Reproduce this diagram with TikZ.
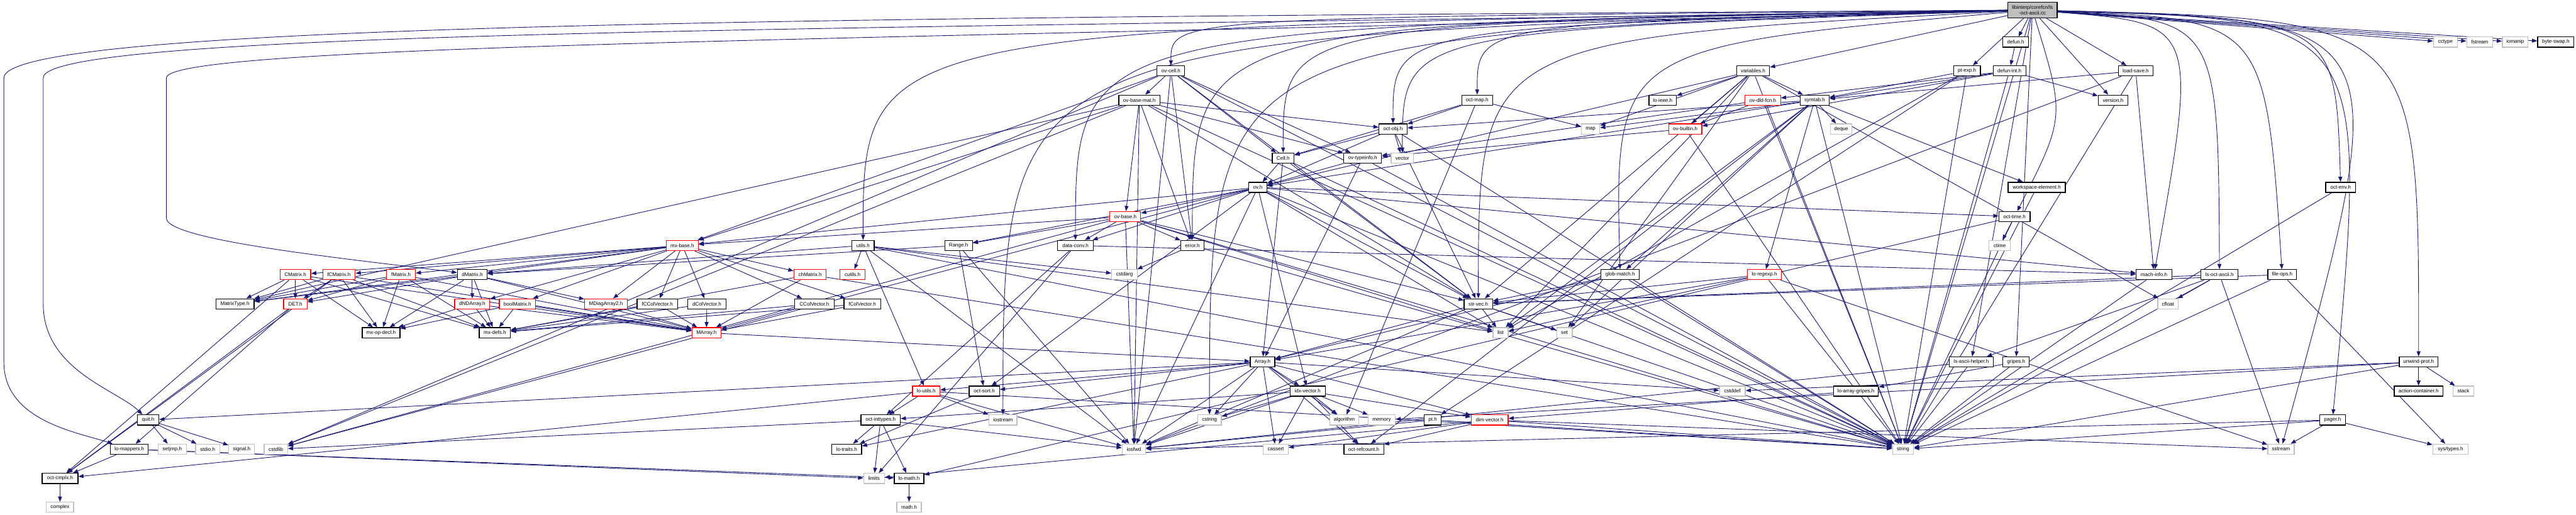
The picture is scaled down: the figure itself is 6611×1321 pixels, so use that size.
\documentclass[tikz,border=0pt]{standalone}
\usepackage{fontspec}
\setmainfont{Liberation Sans}
\usetikzlibrary{arrows.meta}
\definecolor{edgecol}{HTML}{191970}
\definecolor{graybd}{HTML}{BFBFBF}
\pgfdeclarelayer{bg}
\pgfsetlayers{bg,main}
\newcommand\nd[6]{\node[#6, minimum width=#4*0.15pt] (#1) at (#2,#3) {#5};}
\newcommand\ed[2]{\foreach \tg in {#2} {\draw[edge] (#1) -- (\tg);}}
\newcommand\rc[3]{\draw[edge] (root) .. controls (#2,#3) .. (#1);}
\begin{document}
\begin{tikzpicture}[x=0.15pt,y=-0.15pt,
 nbox/.style={draw=black, line width=0.3pt, fill=white, inner sep=0pt, minimum height=3.9pt, font=\fontsize{1.95}{2.3}\selectfont},
 gbox/.style={nbox, draw=graybd},
 rbox/.style={nbox, draw=red},
 rootbox/.style={nbox, fill=graybd, align=center, minimum height=6pt},
 edge/.style={draw=edgecol, line width=0.22pt, -{Triangle[length=2pt,width=1.5pt]}}]
\useasboundingbox (0,0) rectangle (6611,1321);
% row 0
\nd{root}{5216}{26}{127}{libinterp/corefcn/ls\\-oct-ascii.cc}{rootbox}
% row 1
\nd{defun}{5173}{108}{66}{defun.h}{nbox}
\nd{cctype}{6276}{108}{62}{cctype}{gbox}
\nd{fstream}{6364}{108}{67}{fstream}{gbox}
\nd{iomanip}{6455}{108}{66}{iomanip}{gbox}
\nd{byteswap}{6559}{108}{93}{byte-swap.h}{nbox}
% row 2
\nd{ovcell}{3005}{182}{71}{ov-cell.h}{nbox}
\nd{variables}{4499}{182}{85}{variables.h}{nbox}
\nd{ptexp}{5048}{182}{69}{pt-exp.h}{nbox}
\nd{defunint}{5157}{182}{84}{defun-int.h}{nbox}
\nd{loadsave}{5481}{182}{89}{load-save.h}{nbox}
% row 3
\nd{ovbasemat}{2924}{257}{105}{ov-base-mat.h}{nbox}
\nd{octmap}{3791}{257}{79}{oct-map.h}{nbox}
\nd{loieee}{4267}{257}{70}{lo-ieee.h}{nbox}
\nd{ovdldfcn}{4524}{257}{91}{ov-dld-fcn.h}{rbox}
\nd{symtab}{4657}{257}{75}{symtab.h}{nbox}
\nd{version}{5423}{257}{76}{version.h}{nbox}
% row 4
\nd{octobj}{3575}{331}{72}{oct-obj.h}{nbox}
\nd{map}{4082}{331}{47}{map}{gbox}
\nd{ovbuiltin}{4325}{331}{85}{ov-builtin.h}{rbox}
\nd{deque}{4725}{331}{56}{deque}{gbox}
% row 5
\nd{cell}{3293}{406}{56}{Cell.h}{nbox}
\nd{ovtypeinfo}{3497}{406}{97}{ov-typeinfo.h}{nbox}
\nd{vector}{3599}{406}{58}{vector}{gbox}
% row 6
\nd{ov}{3228}{481}{46}{ov.h}{nbox}
\nd{wselem}{5227}{481}{147}{workspace-element.h}{nbox}
\nd{octenv}{6007}{481}{77}{oct-env.h}{nbox}
% row 7
\nd{ovbase}{2888}{556}{79}{ov-base.h}{rbox}
\nd{octtime}{5170}{556}{80}{oct-time.h}{nbox}
% row 8
\nd{mxbase}{1751}{630}{82}{mx-base.h}{rbox}
\nd{utils}{2215}{630}{57}{utils.h}{nbox}
\nd{range}{2460}{630}{71}{Range.h}{nbox}
\nd{dataconv}{2760}{630}{91}{data-conv.h}{nbox}
\nd{error}{3060}{630}{59}{error.h}{nbox}
\nd{ctime}{5132}{630}{55}{ctime}{gbox}
% row 9
\nd{cmatrix}{758}{705}{79}{CMatrix.h}{rbox}
\nd{fcmatrix}{870}{705}{83}{fCMatrix.h}{rbox}
\nd{fmatrix}{1029}{705}{74}{fMatrix.h}{rbox}
\nd{dmatrix}{1212}{705}{76}{dMatrix.h}{nbox}
\nd{chmatrix}{2079}{705}{83}{chMatrix.h}{rbox}
\nd{cutils}{2188}{705}{64}{cutils.h}{rbox}
\nd{cstdarg}{2886}{705}{66}{cstdarg}{gbox}
\nd{globmatch}{4158}{705}{98}{glob-match.h}{nbox}
\nd{loregexp}{4528}{705}{87}{lo-regexp.h}{rbox}
\nd{machinfo}{5528}{705}{91}{mach-info.h}{nbox}
\nd{lsoctasciih}{5696}{705}{95}{ls-oct-ascii.h}{nbox}
\nd{fileops}{5857}{705}{74}{file-ops.h}{nbox}
% row 10
\nd{matrixtype}{603}{780}{98}{MatrixType.h}{nbox}
\nd{det}{758}{780}{60}{DET.h}{rbox}
\nd{dndarray}{1212}{780}{90}{dNDArray.h}{rbox}
\nd{boolmatrix}{1328}{780}{93}{boolMatrix.h}{rbox}
\nd{mdiagarray}{1555}{780}{109}{MDiagArray2.h}{rbox}
\nd{fccolvector}{1687}{780}{104}{fCColVector.h}{nbox}
\nd{dcolvector}{1814}{780}{98}{dColVector.h}{nbox}
\nd{ccolvector}{2090}{780}{102}{CColVector.h}{nbox}
\nd{fcolvector}{2213}{780}{94}{fColVector.h}{nbox}
\nd{strvec}{3794}{780}{73}{str-vec.h}{nbox}
\nd{cfloat}{5564}{780}{53}{cfloat}{gbox}
% row 11
\nd{mxopdecl}{978}{854}{97}{mx-op-decl.h}{nbox}
\nd{mxdefs}{1270}{854}{80}{mx-defs.h}{nbox}
\nd{marray}{1813}{854}{74}{MArray.h}{rbox}
\nd{list}{3851}{854}{39}{list}{gbox}
\nd{set}{4015}{854}{40}{set}{gbox}
% row 12
\nd{array}{3240}{929}{63}{Array.h}{nbox}
\nd{lsasciihelper}{5059}{929}{114}{ls-ascii-helper.h}{nbox}
\nd{gripes}{5174}{929}{68}{gripes.h}{nbox}
\nd{unwindprot}{6207}{929}{99}{unwind-prot.h}{nbox}
% row 13
\nd{loutils}{2377}{1004}{70}{lo-utils.h}{rbox}
\nd{octsort}{2526}{1004}{78}{oct-sort.h}{nbox}
\nd{idxvector}{3356}{1004}{90}{idx-vector.h}{nbox}
\nd{cstddef}{4446}{1004}{66}{cstddef}{gbox}
\nd{loarraygripes}{4763}{1004}{115}{lo-array-gripes.h}{nbox}
\nd{actioncontainer}{6207}{1004}{125}{action-container.h}{nbox}
\nd{stack}{6322}{1004}{54}{stack}{gbox}
% row 14
\nd{quit}{380}{1078}{55}{quit.h}{nbox}
\nd{octinttypes}{2260}{1078}{101}{oct-inttypes.h}{nbox}
\nd{iostream}{2574}{1078}{72}{iostream}{gbox}
\nd{cstring}{3104}{1078}{61}{cstring}{gbox}
\nd{algorithm}{3450}{1078}{75}{algorithm}{gbox}
\nd{memory}{3546}{1078}{69}{memory}{gbox}
\nd{npt}{3677}{1078}{44}{pt.h}{nbox}
\nd{dimvector}{3823}{1078}{95}{dim-vector.h}{rbox}
\nd{pager}{5986}{1078}{66}{pager.h}{nbox}
% row 15
\nd{lomappers}{332}{1153}{97}{lo-mappers.h}{nbox}
\nd{setjmp}{442}{1153}{72}{setjmp.h}{gbox}
\nd{stdio}{533}{1153}{62}{stdio.h}{gbox}
\nd{signal}{620}{1153}{66}{signal.h}{gbox}
\nd{cstdlib}{708}{1153}{60}{cstdlib}{gbox}
\nd{lotraits}{2173}{1153}{76}{lo-traits.h}{nbox}
\nd{iosfwd}{2910}{1153}{60}{iosfwd}{gbox}
\nd{cassert}{3274}{1153}{64}{cassert}{gbox}
\nd{octrefcount}{3500}{1153}{102}{oct-refcount.h}{nbox}
\nd{string}{4884}{1153}{54}{string}{gbox}
\nd{sstream}{5854}{1153}{68}{sstream}{gbox}
\nd{systypes}{6289}{1153}{91}{sys/types.h}{gbox}
% row 16
\nd{octcmplx}{154}{1228}{92}{oct-cmplx.h}{nbox}
\nd{limits}{2243}{1228}{53}{limits}{gbox}
\nd{lomath}{2333}{1228}{76}{lo-math.h}{nbox}
% row 17
\nd{complex}{154}{1302}{70}{complex}{gbox}
\nd{mathh}{2333}{1302}{63}{math.h}{gbox}

\begin{pgfonlayer}{bg}
% root edges
\ed{root}{defun,cctype,fstream,iomanip,byteswap,variables,ptexp,loadsave,version,string,lsasciihelper,gripes}
\rc{ovcell}{3005}{45}
\rc{octmap}{3791}{60}
\rc{octobj}{3575}{70}
\rc{cell}{3293}{60}
\rc{vector}{3599}{80}
\rc{utils}{2215}{70}
\rc{dataconv}{2760}{70}
\rc{error}{3060}{60}
\rc{strvec}{3794}{100}
\rc{globmatch}{4142}{120}
\rc{iostream}{2574}{90}
\rc{cstring}{3104}{90}
\rc{octtime}{5300}{300}
\rc{machinfo}{5642}{60}
\rc{lsoctasciih}{5693}{50}
\rc{fileops}{5814}{50}
\rc{octenv}{5994}{50}
\rc{pager}{6082}{50}
\rc{sstream}{6157}{50}
\rc{unwindprot}{6208}{50}
\draw[edge] (root.west) .. controls (2500,45) and (10,50) .. (10,200) -- (10,930) .. controls (10,1080) and (200,1110) .. (lomappers);
\draw[edge] (root.west) .. controls (2500,75) and (111,70) .. (111,200) -- (111,780) .. controls (111,950) and (300,1000) .. (quit);
\draw[edge] (root.west) .. controls (2500,100) and (427,110) .. (427,200) -- (427,560) .. controls (427,620) and (950,670) .. (dmatrix);
% other edges
\ed{defun}{defunint}
\ed{defunint}{string,ovbuiltin,ovdldfcn,symtab,version}
\ed{ptexp}{string,list,npt,symtab}
\ed{variables}{cfloat,list,map,set,string,loieee,ov,ovbuiltin,symtab,strvec}
\ed{loadsave}{iosfwd,string,machinfo,symtab}
\ed{ovcell}{cstdlib,iosfwd,string,mxbase,strvec,cell,error,ovbasemat,ovtypeinfo}
\ed{ovbasemat}{cstdlib,iosfwd,string,mxbase,strvec,matrixtype,error,octobj,ovbase,ovtypeinfo}
\ed{octmap}{algorithm,map,cell,octobj}
\ed{octobj}{string,vector,strvec,cell,ov}
\ed{ovdldfcn}{string,ovbuiltin,ovtypeinfo}
\ed{symtab}{deque,list,map,set,string,globmatch,loregexp,octobj,wselem,octrefcount,ov}
\ed{ovbuiltin}{string,ovtypeinfo}
\ed{cell}{string,array,strvec,ov}
\ed{ovtypeinfo}{string,array,ov}
\ed{ov}{cstdlib,iosfwd,string,list,range,dataconv,idxvector,machinfo,mxbase,octtime,strvec,octsort,ovbase}
\ed{wselem}{string}
\ed{octenv}{string}
\ed{ovbase}{cstdlib,iosfwd,list,string,range,dataconv,mxbase,strvec,error}
\ed{octtime}{ctime,string,lomath}
\ed{mxbase}{matrixtype,boolmatrix,chmatrix,dmatrix,cmatrix,fmatrix,fcmatrix,dcolvector,ccolvector,fcolvector,fccolvector,dndarray,mdiagarray}
\ed{utils}{cstdarg,iosfwd,string,list,dmatrix,loutils,cutils}
\ed{range}{iosfwd,dmatrix,octsort}
\ed{dataconv}{limits,machinfo,octinttypes}
\ed{error}{cstdarg,string}
\ed{dmatrix}{matrixtype,det,mxopdecl,dndarray,marray,mxdefs,mdiagarray}
\ed{cmatrix}{matrixtype,det,mxopdecl,marray,mxdefs,octcmplx}
\ed{fcmatrix}{matrixtype,det,mxopdecl,marray,mxdefs,octcmplx}
\ed{fmatrix}{matrixtype,det,mxopdecl,marray,mxdefs}
\ed{det}{octcmplx,lomappers}
\ed{dndarray}{mxdefs,marray,mxopdecl}
\ed{boolmatrix}{mxdefs,marray,mxopdecl}
\ed{mdiagarray}{marray}
\ed{fccolvector}{marray,mxdefs}
\ed{dcolvector}{marray,mxdefs}
\ed{ccolvector}{marray,mxdefs}
\ed{fcolvector}{marray,mxdefs}
\ed{chmatrix}{mxdefs,marray,string}
\ed{marray}{array}
\ed{array}{cassert,cstddef,algorithm,iosfwd,cstring,dimvector,idxvector,lotraits,loutils,octsort,quit,octrefcount}
\ed{idxvector}{cassert,cstring,algorithm,iosfwd,memory,dimvector,octinttypes,octrefcount}
\ed{dimvector}{cassert,limits,sstream,string,octrefcount}
\ed{npt}{string,iosfwd}
\ed{strvec}{iosfwd,list,set,string,array}
\ed{globmatch}{string,array,strvec}
\ed{loregexp}{list,sstream,string,array,strvec}
\ed{machinfo}{string}
\ed{lsoctasciih}{cfloat,sstream,string,strvec,lsasciihelper}
\ed{fileops}{string,systypes,strvec}
\ed{lsasciihelper}{iosfwd,string}
\ed{gripes}{loarraygripes,string}
\ed{loarraygripes}{dimvector}
\ed{unwindprot}{cstddef,string,memory,stack,actioncontainer}
\ed{pager}{iosfwd,sstream,string,systypes}
\ed{lomappers}{limits,octcmplx,lomath}
\ed{quit}{setjmp,stdio,signal}
\ed{octcmplx}{complex}
\ed{loutils}{iostream,iosfwd,string,octcmplx,octinttypes}
\ed{octsort}{lotraits}
\ed{octinttypes}{cstdlib,limits,iosfwd,lotraits,lomath}
\ed{lomath}{mathh}
\end{pgfonlayer}
\end{tikzpicture}
\end{document}
